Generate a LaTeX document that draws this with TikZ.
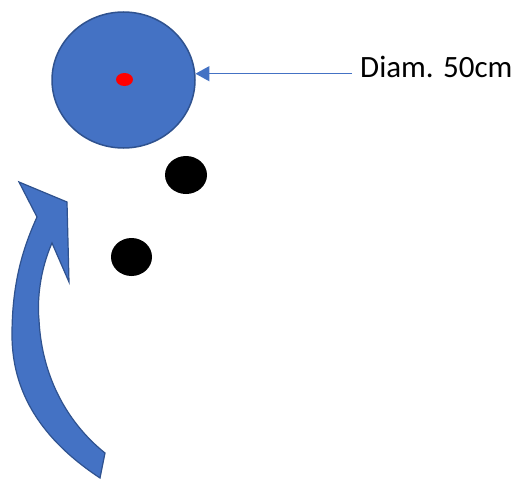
\documentclass[tikz,border=0pt]{standalone}
\usepackage{fontspec}
\setmainfont{Carlito}
\usetikzlibrary{shapes.geometric,arrows.meta}
\definecolor{fillblue}{HTML}{4472C4}
\definecolor{lineblue}{HTML}{2F528F}
\begin{document}
\begin{tikzpicture}[x=1pt,y=-1pt,
	disc/.style={draw=lineblue,fill=fillblue,line width=1.5pt,ellipse,inner sep=0pt},
	dot/.style={fill=black,ellipse,inner sep=0pt},
	pointer/.style={draw=fillblue,line width=1.5pt,-{Triangle[length=14pt,width=15pt]}}]
	\useasboundingbox (0,0) rectangle (520,479);

	\node[disc,minimum width=143pt,minimum height=136pt] (wheel) at (123.5,80) {};
	\node[fill=red,ellipse,inner sep=0pt,minimum width=17pt,minimum height=13pt] (centre) at (124.5,79.5) {};

	\node[anchor=base west,inner xsep=8pt,inner ysep=0pt,font=\fontsize{31}{36}\selectfont] (label) at (352,77) {Diam. 50cm};
	\draw [pointer] (label.west |- wheel.5) -- (wheel.5);

	\node[dot,minimum width=42pt,minimum height=38pt] (dot1) at (186,175) {};
	\node[dot,minimum width=41pt,minimum height=38pt] (dot2) at (131.5,257) {};

	% curved arrow
	\filldraw[fill=fillblue,draw=lineblue,line width=1.2pt,line join=miter]
		(100,478) .. controls (50,445) and (12,400) .. (12,335)
		.. controls (12,285) and (22,250) .. (37,217)
		-- (19,182) -- (67,202) -- (69,282) -- (52,243)
		.. controls (40,270) and (37,300) .. (39,320)
		.. controls (42,380) and (70,425) .. (105,453)
		-- cycle;
\end{tikzpicture}
\end{document}
